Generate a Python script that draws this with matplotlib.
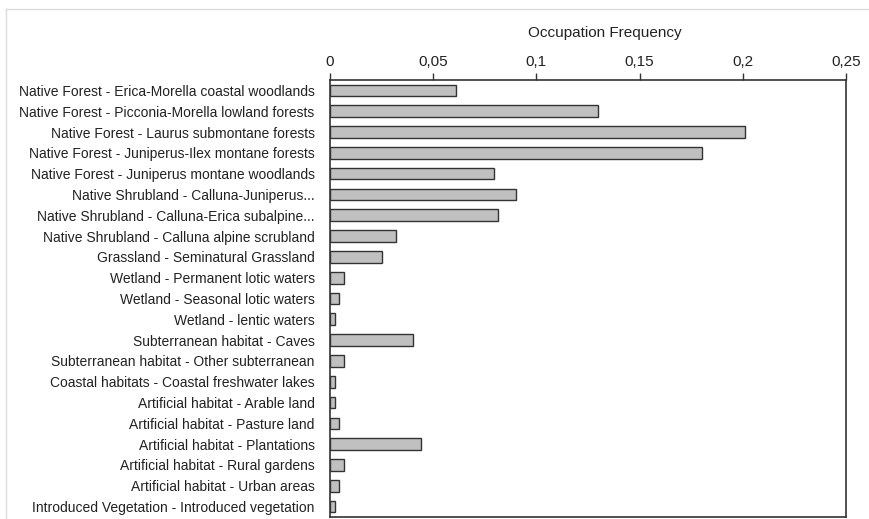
import matplotlib
matplotlib.use("Agg")
import matplotlib.pyplot as plt
from matplotlib.lines import Line2D
from matplotlib.ticker import FuncFormatter

# -----------------------------
# DATA
# -----------------------------
habitats = [
    "Native Forest - Erica-Morella coastal woodlands",
    "Native Forest - Picconia-Morella lowland forests",
    "Native Forest - Laurus submontane forests",
    "Native Forest - Juniperus-Ilex montane forests",
    "Native Forest - Juniperus montane woodlands",
    "Native Shrubland - Calluna-Juniperus...",
    "Native Shrubland - Calluna-Erica subalpine...",
    "Native Shrubland - Calluna alpine scrubland",
    "Grassland - Seminatural Grassland",
    "Wetland - Permanent lotic waters",
    "Wetland - Seasonal lotic waters",
    "Wetland - lentic waters",
    "Subterranean habitat - Caves",
    "Subterranean habitat - Other subterranean",
    "Coastal habitats - Coastal freshwater lakes",
    "Artificial habitat - Arable land",
    "Artificial habitat - Pasture land",
    "Artificial habitat - Plantations",
    "Artificial habitat - Rural gardens",
    "Artificial habitat - Urban areas",
    "Introduced Vegetation - Introduced vegetation",
]

frequency = [
    0.061, 0.130, 0.201, 0.180, 0.0795, 0.0903, 0.0816, 0.0319, 0.0251,
    0.0066, 0.0045, 0.0024, 0.0402, 0.0066, 0.0026, 0.0026, 0.0045,
    0.0442, 0.0066, 0.0045, 0.0026,
]

x_ticks = [0, 0.05, 0.1, 0.15, 0.2, 0.25]

# -----------------------------
# PLOT
# -----------------------------
plt.rcParams["font.family"] = ["Liberation Sans", "DejaVu Sans"]

fig = plt.figure(figsize=(8.7, 5.19), dpi=100)
ax = fig.add_axes([330 / 870, 2 / 519, 516 / 870, 437 / 519])

y = list(range(len(habitats)))
ax.barh(y, frequency, height=0.56, color="#c0c0c0",
        edgecolor="#333333", linewidth=1.0)

ax.set_ylim(len(habitats) - 0.5, -0.5)
ax.set_xlim(0, 0.25)
ax.set_yticks(y)
ax.set_yticklabels(habitats, fontsize=10, color="#222222")
ax.tick_params(axis="y", length=0, pad=11)

ax.xaxis.tick_top()
ax.xaxis.set_label_position("top")
ax.set_xticks(x_ticks)
ax.xaxis.set_major_formatter(
    FuncFormatter(lambda v, _: ("%g" % v).replace(".", ",")))
ax.tick_params(axis="x", length=5, width=1, color="#333333",
               labelsize=11, labelcolor="#222222", pad=3)
ax.set_xlabel("Occupation Frequency", fontsize=11, color="#222222")
ax.xaxis.set_label_coords(0.533, 1.0 + 43 / 437)

for side in ax.spines.values():
    side.set_color("#333333")
    side.set_linewidth(1.2)

# faint chart frame, as in the spreadsheet export
fx, fy = 6 / 870, 1 - 9 / 519
fig.add_artist(Line2D([fx, 1], [fy, fy], transform=fig.transFigure,
                      color="#dcdcdc", linewidth=1))
fig.add_artist(Line2D([fx, fx], [0, fy], transform=fig.transFigure,
                      color="#dcdcdc", linewidth=1))

fig.savefig("out.png", dpi=100)
